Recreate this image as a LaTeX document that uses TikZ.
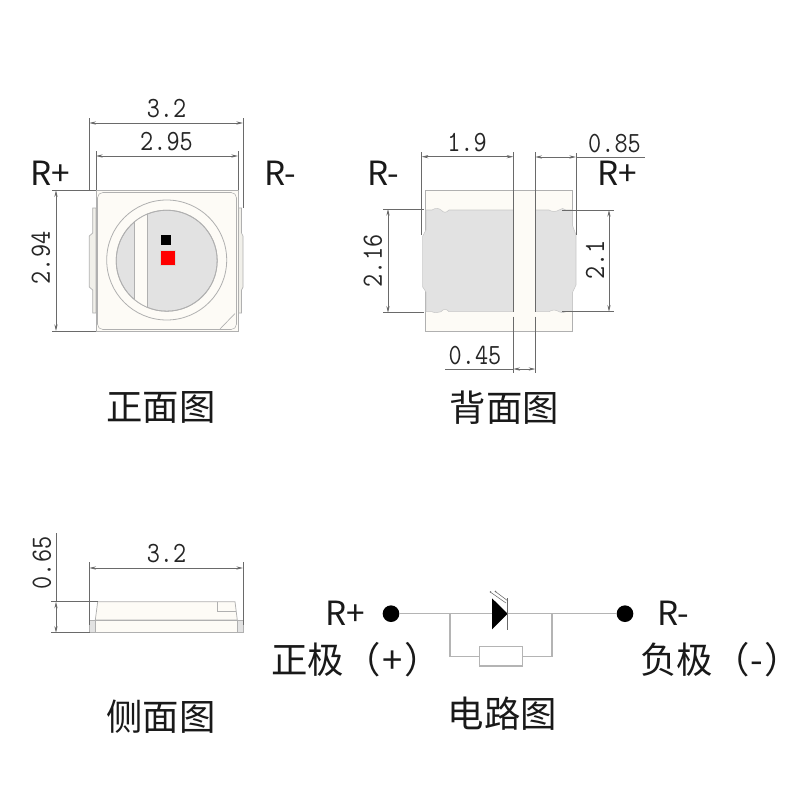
\documentclass[tikz,border=0pt]{standalone}
\usepackage{fontspec}
\usetikzlibrary{arrows.meta}
\newfontfamily\cjkfont{Noto Sans CJK SC}
\newfontfamily\dimfont[FakeStretch=0.87]{Latin Modern Mono}
\definecolor{cream}{HTML}{FDFBF6}
\definecolor{padgray}{HTML}{E2E2E2}
\definecolor{sidepad}{HTML}{F1F0EA}
\definecolor{edge}{HTML}{B0B0B0}
\definecolor{dimc}{HTML}{6A6A6A}
\definecolor{wirec}{HTML}{B4B4B4}
\tikzset{
  dimtext/.style={font=\dimfont\fontsize{22}{22}\selectfont,text=black!85,inner sep=0pt},
  pinlabel/.style={font=\cjkfont\fontsize{25}{25}\selectfont,text=black!90,inner sep=0pt},
  caption/.style={font=\cjkfont\fontsize{27.3}{27.3}\selectfont,text=black!90,inner sep=0pt},
  dimline/.style={draw=dimc,line width=0.45pt,{Stealth[length=5pt,width=2.4pt]}-{Stealth[length=5pt,width=2.4pt]}},
  extline/.style={draw=dimc,line width=0.45pt},
  body/.style={draw=edge,line width=0.55pt,fill=cream},
  pad/.style={draw=edge!70,line width=0.4pt,fill=padgray},
  sidetab/.style={draw=edge,line width=0.5pt,fill=sidepad},
  wire/.style={draw=wirec,line width=0.9pt},
  terminal/.style={circle,fill=black,inner sep=0pt,minimum size=12.5pt},
  resistor/.style={draw=wirec,line width=0.9pt,fill=white,minimum width=32pt,minimum height=14.5pt,inner sep=0pt}
}
\begin{document}
\begin{tikzpicture}[x=0.75pt,y=-0.75pt]
\useasboundingbox (0,0) rectangle (800,800);
\fill[white] (0,0) rectangle (800,800);

% ---------- front view
\path[sidetab] (96,208) -- (92.7,208) -- (92.7,233) -- (89.3,236) -- (89.3,287) -- (92.7,290) -- (92.7,313) -- (96,313) -- cycle;
\path[sidetab] (238,208) -- (241.5,208) -- (241.5,233) -- (243,236) -- (243,287) -- (241.5,290) -- (241.5,313) -- (238,313) -- cycle;
\draw[body] (96,190.5) rectangle (238,331);
\draw[draw=edge,line width=0.4pt,rounded corners=4pt] (97.5,192.5) rectangle (236.5,329.5);
\draw[edge,line width=0.5pt] (220,329) -- (235,313.5);
\draw[edge,fill=cream,line width=0.6pt] (166.7,260) circle (60);
\draw[edge,fill=padgray,line width=0.6pt] (166.7,260.7) circle (50.5);
\begin{scope}
  \clip (166.7,260.7) circle (50.5);
  \fill[cream] (134.7,200) rectangle (147.3,320);
  \draw[edge,line width=0.5pt] (134.7,200) -- (134.7,320) (147.3,200) -- (147.3,320);
\end{scope}
\draw[edge,line width=0.6pt] (166.7,260.7) circle (50.5);
\fill[black] (161.3,234.7) rectangle (171.3,244.7);
\draw[draw=cream!70!gray,fill=red,line width=0.5pt] (160.5,250.5) rectangle (175.7,265.3);

\draw[extline] (89.3,118) -- (89.3,190);
\draw[extline] (243,118) -- (243,208);
\draw[extline] (96,151) -- (96,190);
\draw[extline] (238,151) -- (238,190);
\draw[extline] (52,190.3) -- (96,190.3);
\draw[extline] (52,331) -- (96,331);
\draw[dimline] (89.3,123) -- (243,123);
\draw[dimline] (96,156) -- (238,156);
\draw[dimline] (56,190.3) -- (56,331);
\node[dimtext] (f32) at (166.5,109) {3.2};
\node[dimtext] (f295) at (166.5,142) {2.95};
\node[dimtext,rotate=90] (f294) at (41,258) {2.94};
\node[pinlabel] (frp) at (50,173) {R+};
\node[pinlabel] (frm) at (280.5,173) {R-};
\node[caption] (fcap) at (161,407) {正面图};

% ---------- back view
\draw[body] (425.7,190) rectangle (572.7,331.7);
\path[pad] (426,210) -- (432,210) .. controls (436,207) and (440,209) .. (441,210)
  .. controls (444,213) and (446,213) .. (449,210) -- (513.3,210) -- (513.3,311.7) -- (449,311.7)
  .. controls (446,308.5) and (444,308.5) .. (441,311.7)
  .. controls (438,313) and (434,313) .. (432,311.7) -- (426,311.7) -- (426,292) -- (422.7,287) -- (422.7,236) -- (426,230) -- cycle;
\path[pad] (535.3,210) -- (549,210) .. controls (552,212) and (556,212) .. (559,210)
  .. controls (561,208) and (564,208) .. (566,210) -- (572.7,210) -- (572.7,226) -- (576,235) -- (576,285) -- (572.7,292)
  -- (572.7,311.7) -- (566,311.7) .. controls (564,313) and (561,313) .. (559,311.7)
  .. controls (556,309.5) and (552,309.5) .. (549,311.7) -- (535.3,311.7) -- cycle;
\draw[extline] (421.7,152) -- (421.7,235);
\draw[extline] (513.3,152) -- (513.3,311.7);
\draw[extline] (513.3,316.5) -- (513.3,373);
\draw[extline] (535.3,152) -- (535.3,311.7);
\draw[extline] (535.3,316.5) -- (535.3,373);
\draw[extline] (576,153) -- (576,235);
\draw[extline] (576,157) -- (645,157);
\draw[extline] (445,369) -- (513.3,369);
\draw[extline] (383,209) -- (424,209);
\draw[extline] (383,312.7) -- (424,312.7);
\draw[extline] (562,210) -- (614,210);
\draw[extline] (562,311.7) -- (614,311.7);
\draw[dimline] (421.7,156.7) -- (513.3,156.7);
\draw[dimline] (535.3,157) -- (576,157);
\draw[dimline] (513.3,369) -- (535.3,369);
\draw[dimline] (388,209) -- (388,312.7);
\draw[dimline] (609,210) -- (609,311.7);
\node[dimtext] (b19) at (467,143) {1.9};
\node[dimtext] (b085) at (614.5,144) {0.85};
\node[dimtext] (b045) at (475,356) {0.45};
\node[dimtext,rotate=90] (b216) at (373,261) {2.16};
\node[dimtext,rotate=90] (b21) at (595,260) {2.1};
\node[pinlabel] (brm) at (383,173) {R-};
\node[pinlabel] (brp) at (617,173) {R+};
\node[caption] (bcap) at (504.5,408) {背面图};

% ---------- side view
\draw[body] (97.7,601.7) -- (235,601.7) -- (237.3,620) -- (95.3,620) -- cycle;
\draw[edge,line width=0.5pt] (217.3,601.7) -- (217.3,611) -- (236,611);
\draw[body] (89.3,620) rectangle (243,632.7);
\draw[draw=edge,line width=0.5pt,fill=padgray] (89.3,620) rectangle (95.5,632.7);
\draw[draw=edge,line width=0.5pt,fill=padgray] (237.5,620) rectangle (243,632.7);
\draw[extline] (89.3,562) -- (89.3,625);
\draw[extline] (243,562) -- (243,625);
\draw[extline] (51,601.7) -- (98,601.7);
\draw[extline] (51,632.7) -- (90,632.7);
\draw[extline] (56,533) -- (56,601.7);
\draw[dimline] (89.3,568) -- (243,568);
\draw[dimline] (56,601.7) -- (56,632.7);
\node[dimtext] (s32) at (166.5,554) {3.2};
\node[dimtext,rotate=90] (s065) at (42,563) {0.65};
\node[caption] (scap) at (161,717) {侧面图};

% ---------- circuit
\node[terminal] (tp) at (391,613.7) {};
\node[terminal] (tn) at (625,613.7) {};
\coordinate (ja) at (450,613.7);
\coordinate (jb) at (552,613.7);
\coordinate (da) at (492,613.7);
\coordinate (db) at (507.7,613.7);
\node[resistor] (res) at (500.8,656.3) {};
\draw[wire] (tp) -- (ja) -- (da);
\draw[wire] (db) -- (jb) -- (tn);
\draw[wire] (ja) |- (res.west);
\draw[wire] (jb) |- (res.east);
\fill[black] (492,598.3) -- (db) -- (492,629.3) -- cycle;
\draw[draw=dimc,line width=0.5pt] (507.7,598) -- (507.7,629.5);
\draw[draw=dimc,line width=0.4pt] (506,603) -- (491,592.5) (508,601) -- (496,592);
\fill[dimc] (490.5,592) circle (0.9) (495.5,591.5) circle (0.9);
\node[pinlabel] (crp) at (345.5,613) {R+};
\node[pinlabel] (crm) at (673.5,613) {R-};
\node[caption,anchor=west] (cpos) at (271,660) {正极（\kern1.5pt+\kern1.5pt）};
\node[caption,anchor=west] (cneg) at (640,660) {负极（\kern1pt-\kern1pt）};
\node[caption] (ccap) at (502.5,714) {电路图};
\end{tikzpicture}
\end{document}
